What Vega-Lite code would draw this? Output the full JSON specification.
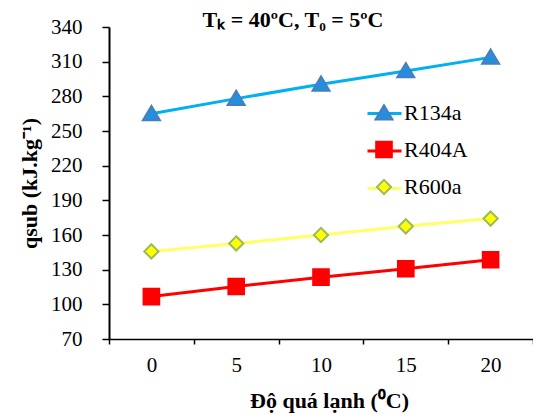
{
  "$schema": "https://vega.github.io/schema/vega-lite/v6.json",
  "autosize": "none",
  "width": 424,
  "height": 312,
  "padding": {"left": 109, "top": 27, "right": 0, "bottom": 79},
  "background": "white",
  "config": {
    "view": {"stroke": null},
    "font": "Liberation Serif"
  },
  "title": {
    "text": "Tₖ = 40ºC, T₀ = 5ºC",
    "font": "Liberation Serif",
    "fontSize": 22,
    "fontWeight": "bold",
    "color": "black",
    "anchor": "middle",
    "baseline": "alphabetic",
    "dx": -28,
    "offset": -33
  },
  "data": {
    "values": [
      {"x": 0, "series": "R134a", "q": 265},
      {"x": 5, "series": "R134a", "q": 278},
      {"x": 10, "series": "R134a", "q": 290.5},
      {"x": 15, "series": "R134a", "q": 302},
      {"x": 20, "series": "R134a", "q": 313.7},
      {"x": 0, "series": "R404A", "q": 106.7},
      {"x": 5, "series": "R404A", "q": 115.4},
      {"x": 10, "series": "R404A", "q": 123.5},
      {"x": 15, "series": "R404A", "q": 130.8},
      {"x": 20, "series": "R404A", "q": 138.6},
      {"x": 0, "series": "R600a", "q": 145.8},
      {"x": 5, "series": "R600a", "q": 152.7},
      {"x": 10, "series": "R600a", "q": 160},
      {"x": 15, "series": "R600a", "q": 167.5},
      {"x": 20, "series": "R600a", "q": 174.2}
    ]
  },
  "encoding": {
    "x": {
      "field": "x",
      "type": "ordinal",
      "scale": {"type": "band", "paddingInner": 0, "paddingOuter": 0},
      "axis": {
        "title": "Độ quá lạnh (⁰C)",
        "titleFont": "Liberation Serif",
        "titleFontSize": 22,
        "titleFontWeight": "bold",
        "titleColor": "black",
        "titlePadding": 15,
        "titleX": 220,
        "labelAngle": 0,
        "labelFont": "Liberation Serif",
        "labelFontSize": 21,
        "labelColor": "black",
        "labelPadding": 10,
        "tickBand": "extent",
        "tickSize": 5,
        "tickColor": "black",
        "tickWidth": 1.5,
        "domainColor": "black",
        "domainWidth": 1.5,
        "grid": false
      }
    },
    "y": {
      "field": "q",
      "type": "quantitative",
      "scale": {"domain": [70, 340], "nice": false, "zero": false},
      "axis": {
        "title": "qsub (kJ.kg⁻¹)",
        "titleFont": "Liberation Serif",
        "titleFontSize": 22,
        "titleFontWeight": "bold",
        "titleColor": "black",
        "titlePadding": 9,
        "values": [70, 100, 130, 160, 190, 220, 250, 280, 310, 340],
        "labelFont": "Liberation Serif",
        "labelFontSize": 21,
        "labelColor": "black",
        "labelPadding": 20,
        "tickSize": 7,
        "tickColor": "black",
        "tickWidth": 1.5,
        "domainColor": "black",
        "domainWidth": 2,
        "grid": false
      }
    }
  },
  "layer": [
    {
      "mark": {"type": "line", "strokeWidth": 3},
      "encoding": {
        "stroke": {
          "field": "series",
          "type": "nominal",
          "scale": {"domain": ["R134a", "R404A", "R600a"], "range": ["#00B0F0", "#FF0000", "#FFFF66"]},
          "legend": {
            "title": null,
            "orient": "none",
            "legendX": 257,
            "legendY": 68,
            "padding": 0,
            "symbolType": "stroke",
            "symbolSize": 1156,
            "symbolStrokeWidth": 3,
            "labelFont": "Liberation Serif",
            "labelFontSize": 22,
            "labelOpacity": 0,
            "labelOffset": 2,
            "rowPadding": 7.5
          }
        }
      }
    },
    {
      "mark": {"type": "point", "filled": false, "strokeWidth": 2, "size": 1156, "opacity": 1},
      "encoding": {
        "shape": {
          "field": "series",
          "type": "nominal",
          "scale": {"range": ["M0,-0.46 L0.5,0.38 L-0.5,0.38 Z", "M-0.46,-0.46 L0.46,-0.46 L0.46,0.46 L-0.46,0.46 Z", "M0,-0.42 L0.42,0 L0,0.42 L-0.42,0 Z"]},
          "legend": {
            "title": null,
            "orient": "none",
            "legendX": 257,
            "legendY": 68,
            "padding": 0,
            "symbolSize": 1156,
            "symbolStrokeWidth": 2,
            "labelFont": "Liberation Serif",
            "labelFontSize": 22,
            "labelColor": "black",
            "labelOffset": 2,
            "rowPadding": 7.5
          }
        },
        "fill": {
          "field": "series",
          "type": "nominal",
          "scale": {"range": ["#2290E0", "#FF0000", "#FFFF00"]}
        },
        "color": {
          "field": "series",
          "type": "nominal",
          "scale": {"range": ["#4A7EBB", "#FF0000", "#9BBB59"]}
        }
      }
    }
  ]
}
